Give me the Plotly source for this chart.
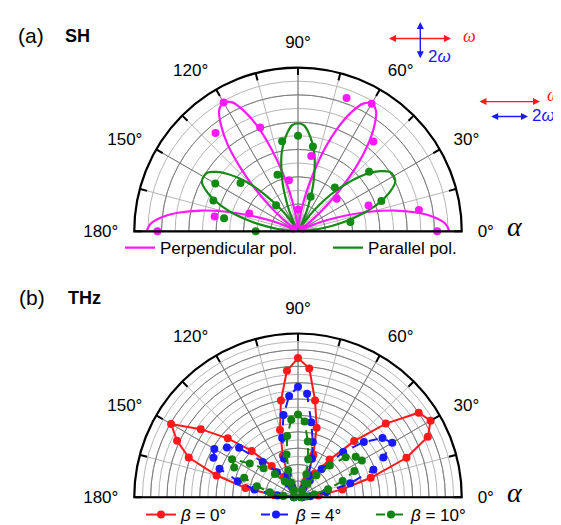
import plotly.graph_objects as go

W, H = 561, 525

# ---------------- data ----------------
# Panel (a) SH: fitted curves (every 3 deg) and measured points
sh_fit_angles = list(range(0, 181, 3))
sh_perp_fit = [11.1, 10.8, 10.0, 8.8, 7.3, 5.6, 3.8, 2.3, 1.1, 0.3, 0.0,
               0.1, 0.6, 1.5, 2.9, 4.5, 6.4, 8.1, 9.5, 10.5, 10.8, 10.5, 9.5, 8.1, 6.4, 4.5, 2.9, 1.5, 0.6, 0.1, 0.0,
               0.1, 0.6, 1.5, 2.9, 4.6, 6.4, 8.2, 9.6, 10.6, 10.9, 10.6, 9.6, 8.2, 6.4, 4.6, 2.9, 1.5, 0.6, 0.1, 0.0,
               0.3, 1.1, 2.3, 3.8, 5.6, 7.3, 8.8, 10.0, 10.8, 11.1]
sh_par_fit = [0.0, 0.5, 1.4, 2.5, 3.7, 4.8, 5.9, 6.8, 7.5, 8.0, 8.1, 8.0, 7.5, 6.8, 5.9, 4.8, 3.7, 2.5, 1.4, 0.5, 0.0,
              0.5, 1.4, 2.4, 3.6, 4.7, 5.8, 6.6, 7.3, 7.8, 7.9, 7.8, 7.3, 6.6, 5.8, 4.7, 3.6, 2.4, 1.4, 0.5, 0.0,
              0.5, 1.4, 2.4, 3.6, 4.8, 5.8, 6.7, 7.4, 7.9, 8.0, 7.9, 7.4, 6.7, 5.8, 4.8, 3.6, 2.4, 1.4, 0.5, 0.0]
sh_perp_pt_angles = [0, 10, 20, 30, 40, 50, 60, 70, 80, 90, 100, 110, 120, 130, 150, 160, 170, 180]
sh_perp_pts = [10.2, 9.0, 5.5, 0.4, 3.7, 8.6, 10.8, 10.4, 5.6, 1.6, 3.8, 8.1, 10.9, 9.4, 0.4, 3.8, 6.2, 10.3]
sh_par_pt_angles = [10, 20, 40, 50, 70, 80, 90, 100, 110, 130, 140, 150, 160, 170, 180]
sh_par_pts = [3.9, 6.5, 6.8, 4.2, 2.7, 6.3, 7.0, 6.7, 4.4, 2.5, 5.5, 7.0, 6.6, 5.5, 3.1]

# Panel (b) THz: measured every 5 deg
thz_angles = list(range(0, 181, 5))
thz_beta0 = [0.5, 2.5, 5.5, 9.2, 14.1, 17.5, 18.7, 18.0, 14.0, 9.7, 6.0, 3.5, 1.5,
             2.5, 5.5, 8.8, 12.0, 15.8, 17.0, 15.5, 12.0, 8.5, 5.4, 3.0, 1.5,
             3.0, 5.0, 8.0, 11.2, 14.5, 17.9, 16.3, 14.2, 10.3, 6.5, 2.9, 0.5]
thz_beta4 = [0.5, 1.5, 3.5, 6.6, 9.8, 11.5, 13.3, 12.6, 10.5, 7.8, 4.5, 2.5, 1.2,
             3.0, 5.0, 7.0, 9.3, 12.7, 13.5, 12.4, 10.2, 7.5, 5.0, 3.0, 1.5,
             2.0, 4.0, 6.1, 9.4, 10.6, 11.8, 11.4, 10.2, 7.6, 5.4, 2.5, 0.5]
thz_beta10 = [0.3, 1.0, 2.0, 3.8, 5.8, 7.6, 9.0, 8.6, 7.6, 5.5, 3.5, 2.0, 1.0,
              2.0, 3.0, 4.8, 6.9, 9.3, 10.1, 9.5, 7.6, 5.4, 3.5, 2.0, 1.0,
              1.0, 2.5, 4.0, 5.5, 7.2, 9.3, 8.6, 7.0, 5.2, 3.5, 1.8, 0.5]

angle_tick_vals = list(range(0, 181, 15))
angle_tick_text = ["0°", "", "30°", "", "60°", "", "90°", "", "120°", "", "150°", "", "180°"]
sh_rmax = 12
thz_rmax = 20

# ---------------- styling ----------------
FONT = "Liberation Sans, Arial, sans-serif"
SERIF = "Liberation Serif, Times New Roman, serif"
LIGHT = "#b6b6b6"
DARK = "#7c7c7c"
FAN = "#999999"
MAGENTA = "#ff19ff"
GREEN = "#138a13"
RED = "#ff1a1a"
BLUE = "#1a1aff"
GREEN2 = "#128212"
TRANSP = "rgba(0,0,0,0)"

CX, R = 290, 165


def px_x(x):
    return x / W


def px_y(y):
    return 1 - y / H


def hidden_radial(rmax, **kw):
    d = dict(range=[0, rmax], showticklabels=False, ticks="", showline=False)
    d.update(kw)
    return d


def panel_polars(cy, rmax):
    dom = dict(x=[px_x(CX - R), px_x(CX + R)], y=[px_y(cy), px_y(cy - R)])
    fr = 19
    fan_dom = dict(x=[px_x(CX - fr), px_x(CX + fr)], y=[px_y(cy), px_y(cy - fr)])
    base = dict(sector=[0, 180], bgcolor="white", domain=dom,
                radialaxis=hidden_radial(rmax, tickvals=list(range(1, rmax + 1)),
                                         gridcolor=LIGHT, gridwidth=1),
                angularaxis=dict(direction="counterclockwise", rotation=0, tickmode="array",
                                 tickvals=angle_tick_vals, ticktext=angle_tick_text,
                                 gridcolor=LIGHT, gridwidth=1, showline=False,
                                 ticks="outside", ticklen=12, tickcolor=TRANSP,
                                 tickfont=dict(family=FONT, size=17, color="black")))
    fan = dict(sector=[0, 180], bgcolor=TRANSP, domain=fan_dom,
               radialaxis=hidden_radial(1, showgrid=False),
               angularaxis=dict(direction="counterclockwise", rotation=0, tickmode="array",
                                tickvals=list(range(0, 181, 10)), gridcolor=FAN, gridwidth=1,
                                showticklabels=False, ticks="", showline=False))
    main = dict(sector=[0, 180], bgcolor=TRANSP, domain=dom,
                radialaxis=hidden_radial(rmax, tickvals=list(range(2, rmax + 1, 2)),
                                         gridcolor=DARK, gridwidth=1.2),
                angularaxis=dict(direction="counterclockwise", rotation=0, tickmode="array",
                                 tickvals=list(range(0, 181, 30)), gridcolor=DARK, gridwidth=1.2,
                                 showticklabels=False, ticks="", showline=True,
                                 linecolor="black", linewidth=2.2))
    ticks = dict(sector=[0, 180], bgcolor=TRANSP, domain=dom,
                 radialaxis=hidden_radial(rmax, showgrid=False),
                 angularaxis=dict(direction="counterclockwise", rotation=0, tickmode="array",
                                  tickvals=angle_tick_vals, showgrid=False,
                                  showticklabels=False, ticks="inside", ticklen=7,
                                  tickwidth=1.8, tickcolor="black", showline=False))
    return base, fan, main, ticks


top = panel_polars(225, sh_rmax)
bot = panel_polars(493, thz_rmax)
layout_polars = {}
polar_keys = []
for i, p in enumerate(top + bot):
    key = "polar" if i == 0 else "polar%d" % (i + 1)
    layout_polars[key] = p
    polar_keys.append(key)

fig = go.Figure()

# invisible anchor traces so that every overlay polar subplot gets drawn
for key in polar_keys:
    if key in ("polar3", "polar7"):
        continue
    fig.add_trace(go.Scatterpolar(r=[0], theta=[0], mode="markers",
                                  marker=dict(opacity=0, size=1), showlegend=False,
                                  hoverinfo="skip", subplot=key))

# ---- panel (a) traces on polar3 ----
fig.add_trace(go.Scatterpolar(r=sh_perp_fit, theta=sh_fit_angles, mode="lines",
                              line=dict(color=MAGENTA, width=2.2, shape="spline"),
                              name="Perpendicular pol.", subplot="polar3", legend="legend"))
fig.add_trace(go.Scatterpolar(r=sh_par_fit, theta=sh_fit_angles, mode="lines",
                              line=dict(color=GREEN, width=2.2, shape="spline"),
                              name="Parallel pol.", subplot="polar3", legend="legend"))
fig.add_trace(go.Scatterpolar(r=sh_perp_pts, theta=sh_perp_pt_angles, mode="markers",
                              marker=dict(color=MAGENTA, size=8), showlegend=False,
                              subplot="polar3"))
fig.add_trace(go.Scatterpolar(r=sh_par_pts, theta=sh_par_pt_angles, mode="markers",
                              marker=dict(color=GREEN, size=8), showlegend=False,
                              subplot="polar3"))

# ---- panel (b) traces on polar7 ----
for vals, col, dash, nm in [(thz_beta0, RED, "solid", "<i>β</i> = 0°"),
                            (thz_beta4, BLUE, "dash", "<i>β</i> = 4°"),
                            (thz_beta10, GREEN2, "dash", "<i>β</i> = 10°")]:
    fig.add_trace(go.Scatterpolar(r=vals, theta=thz_angles, mode="lines+markers",
                                  line=dict(color=col, width=2, dash=dash),
                                  marker=dict(color=col, size=8),
                                  name=nm, subplot="polar7", legend="legend2"))


def label(x, y, text, size, family=FONT, color="black", xanchor="center"):
    return dict(x=px_x(x), y=px_y(y), text=text, showarrow=False, xanchor=xanchor,
                yanchor="middle", font=dict(family=family, size=size, color=color))


def arrow(x_head, y, ax, ay, color):
    return dict(x=px_x(x_head), y=px_y(y), ax=ax, ay=ay, text="", showarrow=True,
                arrowhead=2, arrowside="end+start", arrowsize=1, arrowwidth=1.4,
                arrowcolor=color)


annotations = [
    label(23, 28, "(a)", 21),
    label(69, 28, "<b>SH</b>", 18),
    label(24, 292, "(b)", 21),
    label(76, 292, "<b>THz</b>", 18),
    label(507, 220, "<i>α</i>", 28, SERIF),
    label(507, 488, "<i>α</i>", 28, SERIF),
    arrow(443, 30.7, -63.5, 0, RED),
    arrow(412.3, 50.7, 0, -37.7, BLUE),
    label(461, 28, "<i>ω</i>", 18, SERIF, RED),
    label(431, 49, "2<i>ω</i>", 17, FONT, BLUE),
    arrow(532, 94.3, -62, 0, RED),
    arrow(520, 109.3, -38.3, 0, BLUE),
    label(545, 88, "<i>ω</i>", 18, SERIF, RED),
    label(549, 108, "2<i>ω</i>", 17, FONT, BLUE, "right"),
]

fig.update_layout(
    width=W, height=H, margin=dict(l=0, r=0, t=0, b=0),
    paper_bgcolor="white", plot_bgcolor="white",
    font=dict(family=FONT, size=16, color="black"),
    legend=dict(orientation="h", x=px_x(112), y=px_y(242), xanchor="left", yanchor="middle",
                bgcolor=TRANSP, font=dict(family=FONT, size=17), entrywidth=163,
                itemwidth=30),
    legend2=dict(orientation="h", x=px_x(133), y=px_y(511), xanchor="left", yanchor="middle",
                 bgcolor=TRANSP, font=dict(family=FONT, size=17), entrywidth=70,
                 itemwidth=30),
    annotations=annotations,
    showlegend=True,
    **layout_polars,
)

fig.write_html("out.html")
